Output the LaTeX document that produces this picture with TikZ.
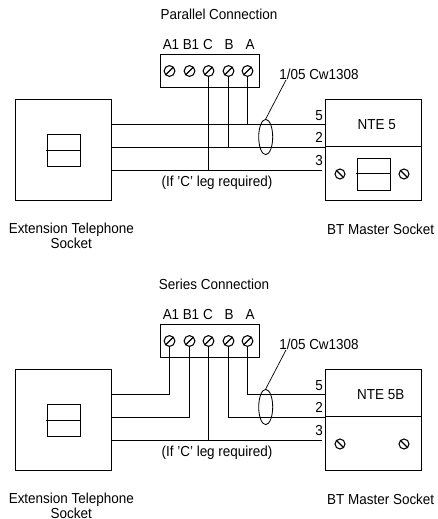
\documentclass[tikz,border=0pt]{standalone}
\usepackage{fontspec}
\setmainfont[FakeStretch=0.93]{Liberation Sans}
\usetikzlibrary{shapes.geometric}
\tikzset{
	lbl/.style={inner sep=0pt,font=\fontsize{10.3}{10.6}\selectfont},
	housing/.style={draw,line width=0.8pt,inner sep=0pt},
	jack/.style={draw,line width=0.9pt,inner sep=0pt,minimum width=0.825cm,minimum height=0.8cm},
	wire/.style={line width=0.75pt},
	termscrew/.style={draw,circle,line width=0.75pt,inner sep=0pt,minimum size=0.27cm,
		path picture={\draw[line width=0.8pt] (path picture bounding box.south west) -- (path picture bounding box.north east);}},
	wallscrew/.style={draw,circle,line width=0.75pt,inner sep=0pt,minimum size=0.25cm,
		path picture={\draw[line width=0.8pt] (path picture bounding box.north west) -- (path picture bounding box.south east);}}
}
\begin{document}
\begin{tikzpicture}[x=0.025cm,y=-0.025cm]
	\useasboundingbox (0,0) rectangle (438,519);
	% parts that both connections share
	\foreach \pn/\dy/\ttl/\ttlx in {p/0/Parallel Connection/219,s/270/Series Connection/214} {
		\begin{scope}[shift={(0,\dy)}]
			\node[lbl] (\pn-title) at (\ttlx,14.5) {\ttl};
			% terminal block
			\node[housing,minimum width=2.475cm,minimum height=0.825cm] (\pn-block) at (210,71) {};
			\foreach \tn/\tx/\lx/\tt in {aone/169.5/171/A1,bone/189.5/191/B1,c/208.5/208/C,b/228.5/229/B,a/247.5/250/A} {
				\node[termscrew] (\pn-\tn) at (\tx,71) {};
				\node[lbl] (\pn-\tn-txt) at (\lx,44.5) {\tt};
			}
			% sockets
			\node[housing,minimum width=2.4cm,minimum height=2.525cm] (\pn-ext) at (63.5,150) {};
			\node[jack] (\pn-extjack) at (64,150.5) {};
			\draw[line width=0.9pt] (46,150.5) -- (\pn-extjack.east);
			\node[housing,minimum width=2.4cm,minimum height=2.525cm] (\pn-nte) at (373.5,150) {};
			\coordinate (\pn-div) at (373,146.5);
			\draw[wire] (\pn-nte.west |- \pn-div) -- (\pn-nte.east |- \pn-div);
			\node[wallscrew] (\pn-sl) at (340,174) {};
			\node[wallscrew] (\pn-sr) at (404,174) {};
			% wire heights
			\coordinate (\pn-w5) at (265.7,124.5);
			\coordinate (\pn-w2) at (265.7,147.5);
			\coordinate (\pn-w3) at (265.7,170.5);
			% C leg
			\draw[wire] (\pn-c.south) -- (\pn-c |- \pn-w3);
			\draw[wire,shorten >=2pt] (\pn-ext.east |- \pn-w3) -- (\pn-nte.west |- \pn-w3);
			% cable
			\node[draw,ellipse,line width=0.6pt,inner sep=0pt,minimum width=0.35cm,minimum height=0.88cm] (\pn-cable) at (265.7,137) {};
			\node[lbl] (\pn-cw) at (319,74) {1/05 Cw1308};
			\coordinate (\pn-lead) at (286,80);
			\draw[line width=0.5pt] (\pn-cable.north) -- (\pn-lead);
			\node[lbl] (\pn-five) at (319,116) {5};
			\node[lbl] (\pn-two) at (319,137.5) {2};
			\node[lbl] (\pn-three) at (319,161) {3};
			\node[lbl] (\pn-leg) at (217,183) {(If 'C' leg required)};
			\node[lbl,align=center] (\pn-exttxt) at (71.3,235.5) {Extension Telephone\\Socket};
			\node[lbl] (\pn-nttxt) at (380.7,229) {BT Master Socket};
		\end{scope}
	}
	% parallel connection
	\node[lbl] (p-ntetxt) at (376.7,124.5) {NTE 5};
	\draw[wire] (p-ext.east |- p-w5) -- (p-nte.west |- p-w5);
	\draw[wire] (p-ext.east |- p-w2) -- (p-nte.west |- p-w2);
	\draw[wire] (p-b.south) -- (p-b |- p-w2);
	\draw[wire] (p-a.south) -- (p-a |- p-w5);
	\node[jack] (p-ntejack) at (374,174.5) {};
	\coordinate (p-jackmid) at (356,173.5);
	\draw[line width=0.9pt] (p-jackmid) -- (p-ntejack.east |- p-jackmid);
	% series connection
	\node[lbl] (s-ntetxt) at (380.7,394.5) {NTE 5B};
	\draw[wire] (s-aone.south) |- (s-ext.east |- s-w5);
	\draw[wire] (s-bone.south) |- (s-ext.east |- s-w2);
	\draw[wire] (s-a.south) |- (s-nte.west |- s-w5);
	\draw[wire] (s-b.south) |- (s-nte.west |- s-w2);
\end{tikzpicture}
\end{document}
